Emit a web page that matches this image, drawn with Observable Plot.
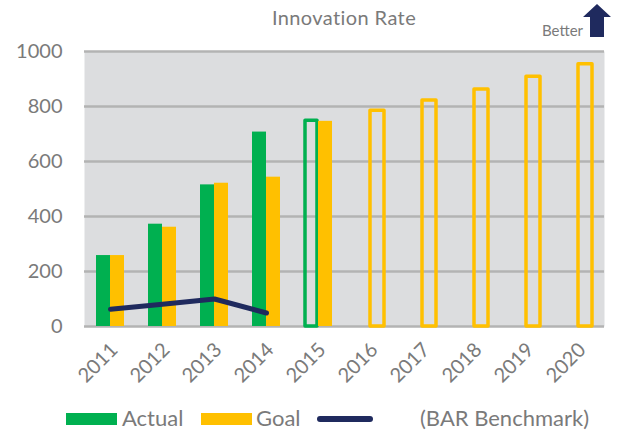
<!DOCTYPE html>
<html>
<head>
<meta charset="utf-8">
<script src="https://cdn.jsdelivr.net/npm/d3@7"></script>
<script src="https://cdn.jsdelivr.net/npm/@observablehq/plot@0.6"></script>
<style>
  html, body { margin: 0; padding: 0; background: #fff; }
  #wrap { position: relative; width: 618px; height: 436px; font-family: Lato, "Open Sans", sans-serif; color: #7a7a7a; overflow: hidden; }
  #chart { position: absolute; left: 0; top: 0; }
  .abs { position: absolute; white-space: nowrap; }
  #title { left: 0; width: 688px; top: 5px; text-align: center; font-size: 20px; line-height: normal; letter-spacing: 0.4px; }
  #better { left: 542px; top: 21px; font-size: 15px; line-height: normal; }
  #arrow { left: 583px; top: 4px; }
  .sw { position: absolute; }
  .lt { position: absolute; top: 407px; font-size: 22px; line-height: 22px; white-space: nowrap; }
</style>
</head>
<body>
<div id="wrap">
  <div id="chart"></div>
  <div id="title" class="abs">Innovation Rate</div>
  <div id="better" class="abs">Better</div>
  <svg id="arrow" class="abs" width="30" height="34" viewBox="0 0 30 34">
    <polygon points="14,0 28,13 21,13 21,33 7,33 7,13 0,13" fill="#1f2a5e"/>
  </svg>
  <div class="sw" style="left:66px;top:413px;width:51px;height:12px;background:#00b050"></div>
  <div class="lt" style="left:122px">Actual</div>
  <div class="sw" style="left:201px;top:413px;width:51px;height:12px;background:#ffc000"></div>
  <div class="lt" style="left:256px">Goal</div>
  <div class="sw" style="left:317px;top:416px;width:56px;height:6px;border-radius:3px;background:#1f2a5e"></div>
  <div class="lt" style="left:420px">(BAR Benchmark)</div>
</div>
<script>
const years = ["2011","2012","2013","2014","2015","2016","2017","2018","2019","2020"];
const actualYears = ["2011","2012","2013","2014","2015"];
const actualValues = [258, 372, 515, 707, 748];
const actualProjected = [false, false, false, false, true];
const goalValues = [258, 361, 521, 543, 746, 785, 822, 862, 908, 954];
const goalProjected = [false, false, false, false, false, true, true, true, true, true];
const benchYears = ["2011","2012","2013","2014"];
const benchValues = [63, 81, 100, 49];
const yTicks = [0, 200, 400, 600, 800, 1000];

const actual = actualYears.map((y, i) => ({year: y, value: actualValues[i], projected: actualProjected[i]}));
const goal = years.map((y, i) => ({year: y, value: goalValues[i], projected: goalProjected[i]}));
const bench = benchYears.map((y, i) => ({year: y, value: benchValues[i]}));

const GREEN = "#00b050", GOLD = "#ffc000", NAVY = "#1f2a5e";

const chart = Plot.plot({
  width: 618,
  height: 436,
  marginTop: 51,
  marginBottom: 110,
  marginLeft: 84,
  marginRight: 14,
  style: {fontFamily: "Lato, 'Open Sans', sans-serif", color: "#7a7a7a", background: "transparent"},
  x: {type: "band", domain: years, padding: 0, label: null},
  y: {domain: [0, 1000], label: null},
  marks: [
    Plot.frame({fill: "#dcdddf", stroke: null}),
    Plot.gridY(yTicks, {stroke: "#b3b3b3", strokeOpacity: 1, strokeWidth: 2.5}),
    Plot.barY(actual.filter(d => !d.projected), {x: "year", y: "value", fill: GREEN, insetLeft: 12, insetRight: 26}),
    Plot.barY(actual.filter(d => d.projected), {x: "year", y: "value", fill: "none", stroke: GREEN, strokeWidth: 3.5, strokeLinejoin: "round", insetLeft: 13, insetRight: 27}),
    Plot.barY(goal.filter(d => !d.projected), {x: "year", y: "value", fill: GOLD, insetLeft: 26, insetRight: 12}),
    Plot.barY(goal.filter(d => d.projected), {x: "year", y: "value", fill: "none", stroke: GOLD, strokeWidth: 3.5, strokeLinejoin: "round", insetLeft: 26, insetRight: 12}),
    Plot.line(bench, {x: "year", y: "value", stroke: NAVY, strokeWidth: 5, strokeLinecap: "round", strokeLinejoin: "round"}),
    Plot.axisY(yTicks, {tickSize: 0, tickPadding: 22, fontSize: 20, fill: "#7a7a7a", tickFormat: d => String(d), label: null}),
    Plot.axisX({tickSize: 0, tickRotate: -45, tickPadding: 20, fontSize: 20, fill: "#7a7a7a", dx: 4, label: null})
  ]
});
document.getElementById("chart").appendChild(chart);
</script>
</body>
</html>
